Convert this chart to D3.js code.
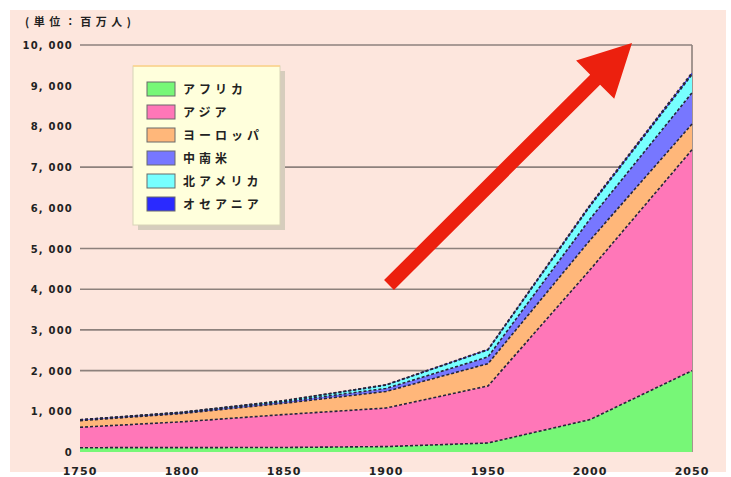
<!DOCTYPE html>
<html>
<head>
<meta charset="utf-8">
<script src="https://cdn.jsdelivr.net/npm/d3@7"></script>
<style>
  body { margin: 0; background: #fff; }
  text { font-family: "DejaVu Sans", "Noto Sans CJK JP", sans-serif; fill: #222; }
</style>
</head>
<body>
<div id="chart"></div>
<script>
// world population by region (million)
var years = [1750, 1800, 1850, 1900, 1950, 2000, 2050];
var regions = ["アフリカ", "アジア", "ヨーロッパ", "中南米", "北アメリカ", "オセアニア"];
var africa = [106, 107, 111, 133, 221, 796, 1998];
var asia = [502, 635, 809, 947, 1402, 3680, 5428];
var europe = [163, 203, 276, 408, 547, 728, 632];
var latinAmerica = [16, 24, 38, 74, 167, 520, 768];
var northAmerica = [2, 7, 26, 82, 172, 316, 448];
var oceania = [2, 2, 2, 6, 13, 31, 46];
var yTicks = [0, 1000, 2000, 3000, 4000, 5000, 6000, 7000, 8000, 9000, 10000];
var gridTicks = [2000, 3000, 4000, 5000, 7000, 10000];
var colors = ["#77f777", "#ff77b8", "#ffb77a", "#7777ff", "#77ffff", "#2a2aff"];

var width = 731, height = 477;
var svg = d3.select("#chart").append("svg")
  .attr("width", width)
  .attr("height", height);

// pink panel
svg.append("rect")
  .attr("x", 10).attr("y", 10)
  .attr("width", 716).attr("height", 462)
  .attr("fill", "#fde6dd");

var x = d3.scaleLinear().domain([1750, 2050]).range([80, 692]);
var y = d3.scaleLinear().domain([0, 10000]).range([452, 45]);

// grid lines
svg.selectAll("line.grid")
  .data(gridTicks)
  .enter().append("line")
    .attr("class", "grid")
    .attr("x1", 80).attr("x2", 692)
    .attr("y1", function (d) { return y(d); })
    .attr("y2", function (d) { return y(d); })
    .attr("stroke", "#8d817c")
    .attr("stroke-width", 1.6);

// right border
svg.append("line")
  .attr("x1", 692).attr("x2", 692)
  .attr("y1", y(10000)).attr("y2", y(0))
  .attr("stroke", "#8d817c")
  .attr("stroke-width", 1.6);

// stacked data
var series = [africa, asia, europe, latinAmerica, northAmerica, oceania];
var table = years.map(function (yr, i) {
  var row = { year: yr };
  regions.forEach(function (r, k) { row[r] = series[k][i]; });
  return row;
});
var stacked = d3.stack().keys(regions)(table);

var area = d3.area()
  .x(function (d) { return x(d.data.year); })
  .y0(function (d) { return y(d[0]); })
  .y1(function (d) { return y(d[1]); });

var topLine = d3.line()
  .x(function (d) { return x(d.data.year); })
  .y(function (d) { return y(d[1]); });

svg.selectAll("path.area")
  .data(stacked)
  .enter().append("path")
    .attr("class", "area")
    .attr("d", area)
    .attr("fill", function (d, i) { return colors[i]; });

svg.selectAll("path.edge")
  .data(stacked)
  .enter().append("path")
    .attr("class", "edge")
    .attr("d", topLine)
    .attr("fill", "none")
    .attr("stroke", "#26263a")
    .attr("stroke-width", 1.6)
    .attr("stroke-dasharray", "3,2");

// y tick labels
svg.selectAll("text.ytick")
  .data(yTicks)
  .enter().append("text")
    .attr("class", "ytick")
    .attr("x", 73)
    .attr("y", function (d) { return y(d) + 4; })
    .attr("text-anchor", "end")
    .style("font-size", "10px")
    .style("font-weight", "bold")
    .style("letter-spacing", "1.2px")
    .text(function (d) { return d3.format(",")(d).replace(",", ", "); });

// x tick labels
svg.selectAll("text.xtick")
  .data(years)
  .enter().append("text")
    .attr("class", "xtick")
    .attr("x", function (d) { return x(d); })
    .attr("y", 475)
    .attr("text-anchor", "middle")
    .style("font-size", "11px")
    .style("font-weight", "bold")
    .style("letter-spacing", "1px")
    .text(function (d) { return d; });

// unit label
svg.append("text")
  .attr("x", 25).attr("y", 26)
  .attr("textLength", 106)
  .attr("lengthAdjust", "spacing")
  .style("font-family", "'Noto Sans CJK JP', sans-serif")
  .style("font-size", "11px")
  .style("font-weight", "bold")
  .text("(単位：百万人)");

// legend
var legend = svg.append("g");
legend.append("rect")
  .attr("x", 138).attr("y", 71)
  .attr("width", 147).attr("height", 159)
  .attr("fill", "#d6cdbd");
legend.append("rect")
  .attr("x", 133).attr("y", 66)
  .attr("width", 147).attr("height", 159)
  .attr("fill", "#ffffdc")
  .attr("stroke", "#d8d4b8")
  .attr("stroke-width", 1);
legend.append("line")
  .attr("x1", 133).attr("x2", 280)
  .attr("y1", 66).attr("y2", 66)
  .attr("stroke", "#ffd38a")
  .attr("stroke-width", 1.5);

var items = legend.selectAll("g.item")
  .data(regions)
  .enter().append("g")
    .attr("class", "item")
    .attr("transform", function (d, i) { return "translate(0," + (89 + i * 23) + ")"; });

items.append("rect")
  .attr("x", 147).attr("y", -7)
  .attr("width", 28).attr("height", 14)
  .attr("fill", function (d, i) { return colors[i]; })
  .attr("stroke", "#6a6a6a")
  .attr("stroke-width", 1);

items.append("text")
  .attr("x", 183).attr("y", 5)
  .style("font-family", "'Noto Sans CJK JP', sans-serif")
  .style("font-size", "12px")
  .style("font-weight", "bold")
  .style("letter-spacing", "4px")
  .text(function (d) { return d; });

// red arrow
var tail = [389, 285], tip = [632, 43];
var dx = tip[0] - tail[0], dy = tip[1] - tail[1];
var len = Math.sqrt(dx * dx + dy * dy);
var ux = dx / len, uy = dy / len, nx = -uy, ny = ux;
var shaftW = 7, headLen = 52, headW = 27;
var bx = tip[0] - ux * headLen, by = tip[1] - uy * headLen;
var pts = [
  [tail[0] + nx * shaftW, tail[1] + ny * shaftW],
  [bx + nx * shaftW, by + ny * shaftW],
  [bx + nx * headW, by + ny * headW],
  tip,
  [bx - nx * headW, by - ny * headW],
  [bx - nx * shaftW, by - ny * shaftW],
  [tail[0] - nx * shaftW, tail[1] - ny * shaftW]
];
svg.append("polygon")
  .attr("points", pts.map(function (p) { return p.join(","); }).join(" "))
  .attr("fill", "#ec200e");
</script>
</body>
</html>
